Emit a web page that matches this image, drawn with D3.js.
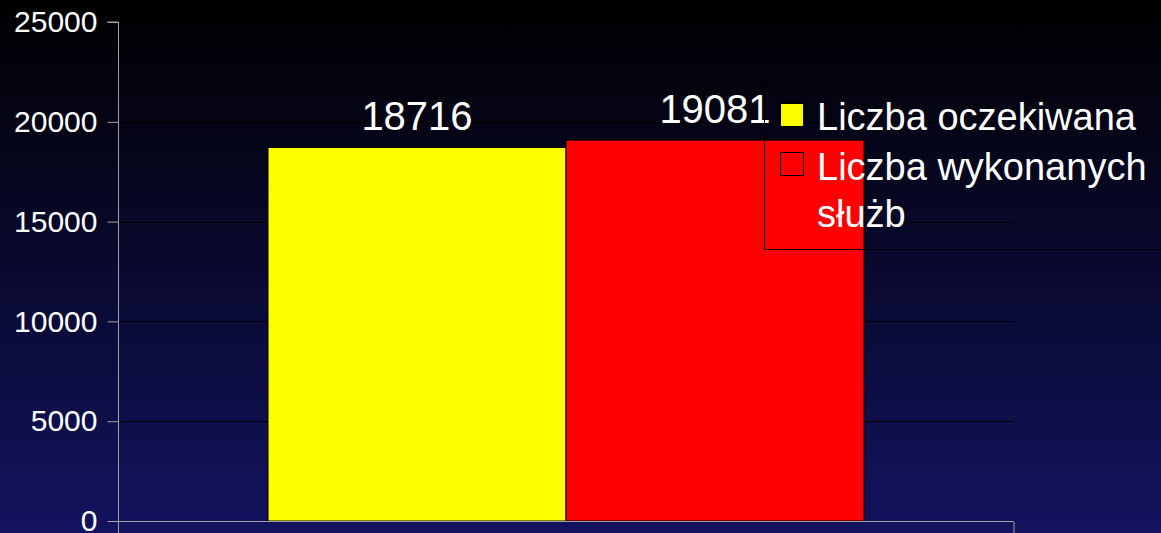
<!DOCTYPE html>
<html>
<head>
<meta charset="utf-8">
<script src="https://cdn.jsdelivr.net/npm/d3@7"></script>
<style>
  html, body { margin: 0; padding: 0; background: #000; }
  svg { display: block; font-family: "Liberation Sans", Arial, sans-serif; }
</style>
</head>
<body>
<svg id="chart" width="1161" height="533"></svg>
<script>
// data
const seriesNames = ['Liczba oczekiwana', 'Liczba wykonanych służb'];
const seriesValues = [18716, 19081];
const seriesColors = ['#ffff00', '#ff0000'];
const yTicks = [0, 5000, 10000, 15000, 20000, 25000];

const width = 1161, height = 533;
const plot = { left: 118, right: 1014, top: 22, bottom: 521 };

const svg = d3.select('#chart');

// background gradient, black at top to navy at bottom
const defs = svg.append('defs');
const grad = defs.append('linearGradient')
  .attr('id', 'bg').attr('x1', 0).attr('y1', 0).attr('x2', 0).attr('y2', 1);
grad.append('stop').attr('offset', '0%').attr('stop-color', '#000000');
grad.append('stop').attr('offset', '100%').attr('stop-color', '#13135f');
svg.append('rect').attr('width', width).attr('height', height).attr('fill', 'url(#bg)');

const y = d3.scaleLinear().domain([0, 25000]).range([plot.bottom, plot.top]);

// one category spanning the plot, bars take the middle two thirds
const xCat = d3.scaleBand().domain(['cat']).range([plot.left, plot.right]).paddingOuter(0.2517);
const x = d3.scaleBand().domain(seriesNames)
  .range([xCat('cat'), xCat('cat') + xCat.bandwidth()]).padding(0);

// gridlines
svg.append('g')
  .selectAll('line')
  .data(yTicks.filter(t => t > 0 && t < 25000))
  .join('line')
  .attr('x1', plot.left).attr('x2', plot.right)
  .attr('y1', d => Math.round(y(d)) + 0.5).attr('y2', d => Math.round(y(d)) + 0.5)
  .attr('stroke', '#000').attr('stroke-width', 1);

// bars
svg.append('g')
  .selectAll('rect')
  .data(seriesValues)
  .join('rect')
  .attr('x', (d, i) => x(seriesNames[i]))
  .attr('y', d => y(d))
  .attr('width', x.bandwidth())
  .attr('height', d => y(0) - y(d))
  .attr('fill', (d, i) => seriesColors[i])
  .attr('stroke', '#000')
  .attr('stroke-width', 1);

// value labels
svg.append('g')
  .selectAll('text')
  .data(seriesValues)
  .join('text')
  .attr('x', (d, i) => x(seriesNames[i]) + x.bandwidth() / 2)
  .attr('y', d => y(d) - 17)
  .attr('text-anchor', 'middle')
  .attr('fill', '#fff')
  .attr('font-size', 40)
  .text(d => d);

// y axis
const yAxis = d3.axisLeft(y).tickValues(yTicks).tickSize(11).tickPadding(10).tickFormat(d3.format('d'));
const gy = svg.append('g').attr('transform', `translate(${plot.left + 0.5},0)`).call(yAxis);
gy.select('.domain').attr('stroke', '#a0a0a0').attr('d', `M-11,${y(25000)}H0V${height}`);
gy.selectAll('.tick line').attr('stroke', '#a0a0a0');
gy.selectAll('.tick text').attr('fill', '#fff').attr('font-size', 30)
  .attr('font-family', '"Liberation Sans", Arial, sans-serif');

// x axis
const xAxis = d3.axisBottom(d3.scaleLinear().domain([0, 1]).range([plot.left, plot.right]))
  .tickValues([1]).tickSize(12).tickFormat('');
const gx = svg.append('g').attr('transform', `translate(0,${plot.bottom + 0.5})`).call(xAxis);
gx.select('.domain').attr('stroke', '#a0a0a0').attr('d', `M${plot.left},0H${plot.right - 0.5}`);
gx.selectAll('.tick line').attr('stroke', '#a0a0a0').attr('transform', 'translate(-0.5,0)');

// legend
const legend = svg.append('g');
legend.append('rect')
  .attr('x', 764.5).attr('y', 83.5).attr('width', 420).attr('height', 166)
  .attr('fill', 'none').attr('stroke', '#000');
const legendRows = [
  { lines: ['Liczba oczekiwana'], sy: 103, ty: 130 },
  { lines: ['Liczba wykonanych', 'służb'], sy: 152, ty: 180 }
];
legendRows.forEach((r, i) => {
  legend.append('rect')
    .attr('x', 780.5).attr('y', r.sy + 0.5).attr('width', 23).attr('height', 23)
    .attr('fill', seriesColors[i]).attr('stroke', '#000');
  const t = legend.append('text').attr('fill', '#fff').attr('font-size', 38);
  r.lines.forEach((ln, j) => {
    t.append('tspan').attr('x', 817).attr('y', r.ty + j * 47).text(ln);
  });
});
</script>
</body>
</html>
